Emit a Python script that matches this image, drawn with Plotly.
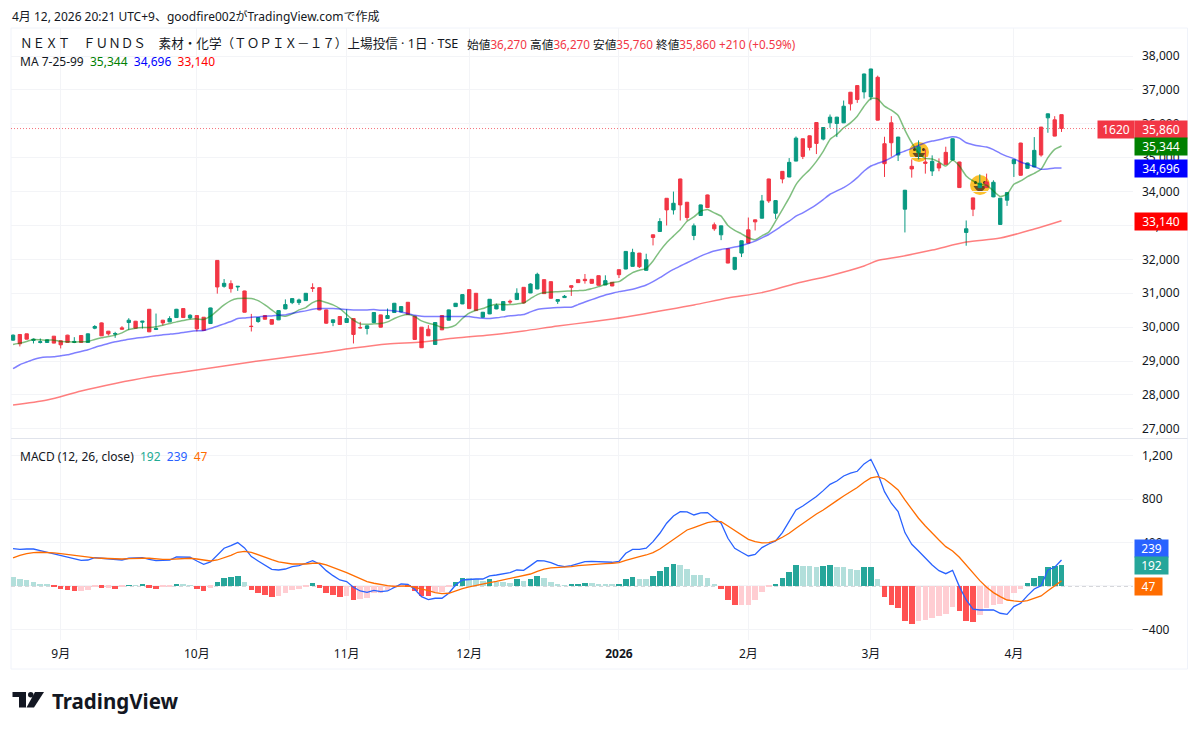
"""NEXT FUNDS TOPIX-17 materials ETF (1620): daily candles with MA and MACD panes."""

import plotly.graph_objects as go
from plotly.subplots import make_subplots

W, H = 1200, 732
FONT = "Noto Sans, Noto Sans CJK JP, sans-serif"
TEXT = "#131722"
GRID = "#F3F4F7"
UP = "#089981"
DOWN = "#F23645"

month_ticks = [7, 27, 49, 67, 89, 108, 126, 147]
month_labels = ["9月", "10月", "11月", "12月", "<b>2026</b>", "2月", "3月", "4月"]
price_ticks = [27000, 28000, 29000, 30000, 31000, 32000, 33000, 34000, 35000, 36000, 37000, 38000]
macd_ticks = [-400, 0, 400, 800, 1200]

opens = [
    29618, 29784, 29804, 29608, 29550, 29549, 29735, 29598, 29765, 29550,
    29755, 29550, 29970, 30127, 29882, 29794, 29980, 30137, 30176, 30147,
    30529, 29931, 30206, 30157, 30284, 30549, 30274, 30343, 30294, 30108,
    31970, 31205, 31284, 31186, 31068, 30029, 30167, 30343, 30225, 30216,
    30539, 30725, 30726, 30784, 31166, 31166, 30510, 30138, 30314, 30138,
    30255, 29990, 29961, 30138, 30363, 30255, 30432, 30451, 30735, 30324,
    30000, 29941, 29491, 30343, 30206, 30608, 30686, 31108, 31000, 30294,
    30392, 30539, 30500, 30765, 30814, 31176, 31010, 31127, 31402, 31343,
    30765, 30873, 31225, 31402, 31412, 31412, 31520, 31245, 31324, 31696,
    31716, 31794, 32186, 31677, 32725, 32823, 33803, 33460, 34372, 33686,
    32706, 33294, 33901, 33020, 32725, 32314, 31706, 32186, 32872, 33166,
    33215, 34372, 33362, 34597, 34430, 34900, 35557, 35646, 36037, 35548,
    36029, 36010, 36029, 36931, 37127, 36941, 36794, 37372, 35412, 36029,
    35079, 33481, 34746, 35147, 34873, 34608, 34824, 35157, 34932, 34873,
    32795, 33814, 34118, 34285, 33844, 33031, 33746, 34824, 35432, 34687,
    34726, 35902, 36176, 36118, 36270,
]
highs = [
    29785, 29800, 29810, 29667, 29667, 29640, 29740, 29610, 29775, 29706,
    29760, 29815, 30060, 30140, 29890, 29863, 30030, 30265, 30185, 30185,
    30535, 30402, 30215, 30323, 30540, 30555, 30382, 30350, 30300, 30575,
    31975, 31420, 31382, 31210, 31075, 30392, 30290, 30350, 30230, 30500,
    30820, 30855, 30843, 31005, 31294, 31170, 30520, 30225, 30320, 30530,
    30260, 30157, 30060, 30440, 30370, 30550, 30715, 30615, 30740, 30330,
    30005, 30060, 30145, 30350, 30520, 30715, 30970, 31115, 31005, 30450,
    30830, 30695, 30765, 30814, 31147, 31180, 31294, 31607, 31410, 31350,
    30820, 30950, 31235, 31410, 31569, 31420, 31525, 31530, 31330, 31700,
    32245, 32314, 32190, 32167, 32735, 33215, 33810, 34000, 34380, 33695,
    33058, 33615, 33910, 33088, 32995, 32320, 32065, 32555, 33235, 33175,
    33901, 34380, 33745, 34605, 34989, 35626, 35565, 35655, 36045, 35900,
    36274, 36205, 36686, 36940, 37135, 37480, 37625, 37421, 35618, 36225,
    35615, 34050, 34951, 35510, 35245, 35069, 34980, 35324, 35568, 34880,
    33148, 33820, 34510, 34530, 34334, 33812, 33980, 34950, 35440, 34852,
    35608, 35910, 36302, 36225, 36270,
]
lows = [
    29600, 29432, 29640, 29520, 29520, 29545, 29525, 29373, 29545, 29530,
    29545, 29545, 29940, 29740, 29755, 29686, 29935, 29920, 29960, 29960,
    29855, 29922, 30050, 30150, 30280, 30280, 30235, 29873, 29895, 30100,
    30990, 31166, 31020, 31070, 30435, 29873, 30130, 30230, 30080, 30210,
    30530, 30680, 30657, 30780, 31040, 30500, 30100, 30030, 30070, 30130,
    29520, 29960, 29785, 30130, 29990, 30250, 30425, 30440, 30365, 29630,
    29385, 29740, 29485, 29915, 30200, 30600, 30680, 30540, 30485, 30285,
    30385, 30530, 30490, 30686, 30810, 30695, 31005, 31120, 30980, 30845,
    30686, 30860, 30922, 31310, 31285, 31285, 31230, 31240, 31210, 31451,
    31710, 31790, 31745, 31670, 32412, 32815, 33000, 33323, 33147, 33147,
    32568, 33285, 33520, 32843, 32568, 31885, 31680, 32068, 32475, 32853,
    33210, 33666, 33196, 34244, 34425, 34895, 34960, 35214, 35107, 35510,
    35882, 35608, 36020, 36392, 36617, 36745, 36696, 36100, 34432, 35030,
    34902, 32795, 34412, 34950, 34530, 34461, 34600, 34795, 34925, 34110,
    32403, 33276, 34110, 34110, 33835, 33024, 33579, 34432, 34470, 34680,
    34720, 35030, 35735, 35630, 35760,
]
closes = [
    29765, 29510, 29647, 29647, 29570, 29628, 29530, 29480, 29550, 29579,
    29550, 29804, 30020, 29745, 29804, 29814, 29941, 30206, 29970, 30176,
    29863, 29961, 30127, 30255, 30529, 30284, 30353, 29951, 29902, 30568,
    31186, 31294, 31137, 31205, 30441, 30020, 30284, 30235, 30088, 30490,
    30666, 30843, 30804, 31000, 31147, 30510, 30118, 30216, 30079, 30255,
    29785, 29981, 30040, 30432, 30000, 30343, 30706, 30608, 30373, 29638,
    29393, 29746, 30138, 29922, 30510, 30706, 30961, 30549, 30490, 30441,
    30824, 30647, 30755, 30745, 31000, 30716, 31274, 31559, 30990, 30853,
    30814, 30912, 31176, 31314, 31373, 31294, 31236, 31373, 31216, 31549,
    32235, 32206, 31784, 31990, 32647, 33117, 33460, 33656, 33607, 33235,
    32990, 33607, 33529, 32902, 32990, 31892, 32059, 32549, 32480, 33107,
    33725, 33725, 33735, 34372, 34862, 35577, 35038, 35303, 35420, 35890,
    36196, 36196, 36519, 36588, 36715, 37470, 37617, 36108, 34824, 35441,
    35608, 34040, 34667, 35324, 34834, 34893, 34696, 34804, 35559, 34118,
    32903, 33481, 34246, 34118, 34275, 33805, 33971, 34942, 34481, 34844,
    35216, 35079, 36294, 35637, 35860,
]
ma7 = [
    29490, 29530, 29579, 29637, 29628, 29618, 29618, 29579, 29569, 29559,
    29569, 29579, 29637, 29686, 29726, 29765, 29833, 29931, 29971, 29990,
    29990, 30010, 30059, 30108, 30157, 30196, 30235, 30245, 30225, 30323,
    30490, 30657, 30784, 30843, 30853, 30843, 30784, 30657, 30510, 30363,
    30323, 30392, 30510, 30579, 30726, 30784, 30726, 30657, 30549, 30373,
    30206, 30098, 30088, 30098, 30108, 30157, 30255, 30334, 30373, 30314,
    30186, 30118, 30069, 29991, 29991, 30059, 30255, 30412, 30500, 30549,
    30628, 30677, 30667, 30667, 30686, 30716, 30843, 30961, 31020, 31039,
    31049, 31059, 31069, 31078, 31088, 31138, 31196, 31265, 31314, 31343,
    31480, 31608, 31677, 31735, 31951, 32245, 32490, 32686, 32882, 33127,
    33254, 33421, 33470, 33372, 33274, 33000, 32853, 32755, 32637, 32578,
    32696, 32804, 33127, 33470, 33813, 34205, 34450, 34646, 34891, 35185,
    35539, 35686, 35882, 36029, 36225, 36519, 36745, 36735, 36519, 36402,
    36245, 35814, 35441, 35147, 34981, 34961, 34873, 34755, 34922, 34755,
    34461, 34314, 34216, 34187, 34020, 33854, 33922, 34216, 34314, 34442,
    34540, 34657, 35000, 35245, 35344,
]
ma25 = [
    28775, 28893, 28971, 29049, 29098, 29118, 29128, 29157, 29187, 29236,
    29285, 29334, 29402, 29461, 29520, 29569, 29608, 29647, 29677, 29696,
    29726, 29755, 29775, 29794, 29814, 29843, 29873, 29892, 29902, 29961,
    30029, 30098, 30167, 30255, 30274, 30294, 30304, 30323, 30333, 30353,
    30363, 30412, 30451, 30481, 30530, 30549, 30549, 30549, 30539, 30520,
    30510, 30510, 30510, 30520, 30500, 30500, 30481, 30451, 30402, 30353,
    30324, 30314, 30314, 30314, 30314, 30314, 30314, 30314, 30285, 30265,
    30255, 30275, 30304, 30334, 30353, 30373, 30451, 30520, 30549, 30569,
    30579, 30588, 30588, 30667, 30745, 30814, 30883, 30951, 31000, 31049,
    31079, 31118, 31177, 31245, 31343, 31461, 31588, 31706, 31804, 31902,
    32000, 32098, 32176, 32245, 32294, 32323, 32363, 32412, 32470, 32539,
    32637, 32735, 32862, 33000, 33127, 33274, 33372, 33490, 33617, 33764,
    33922, 34020, 34118, 34246, 34412, 34608, 34755, 34834, 34902, 35000,
    35118, 35196, 35275, 35363, 35441, 35490, 35530, 35579, 35618, 35579,
    35441, 35383, 35343, 35314, 35236, 35128, 35040, 34971, 34873, 34804,
    34736, 34657, 34667, 34696, 34696,
]
# read every fifth session, the line is smooth enough for that
ma99_idx = [0, 5, 10, 15, 20, 25, 30, 35, 40, 45, 50, 55, 60, 65, 70, 75, 80, 85, 90, 95,
            100, 105, 110, 115, 120, 125, 127, 130, 135, 140, 145, 150, 154]
ma99 = [27705, 27850, 28118, 28340, 28530, 28680, 28825, 28975, 29105, 29240, 29385,
        29505, 29565, 29680, 29770, 29890, 30035, 30160, 30300, 30475, 30655, 30860,
        31020, 31290, 31520, 31805, 31965, 32070, 32275, 32510, 32630, 32895, 33140]

macd = [
    344, 337, 340, 340, 325, 310, 294, 276, 264, 248,
    236, 239, 261, 255, 248, 242, 239, 255, 255, 261,
    245, 233, 236, 239, 267, 264, 264, 230, 199, 221,
    288, 347, 371, 399, 350, 270, 230, 193, 153, 147,
    156, 178, 187, 209, 233, 202, 141, 95, 55, 40,
    -12, -46, -58, -40, -52, -46, -12,
    18, 15, -31, -98, -126, -113, -113, -67, 9, 55,
    61, 64, 64, 92, 101, 113, 123, 147, 144, 187,
    233, 230, 215, 190, 178, 187, 209, 224, 227, 224,
    224, 218, 227, 301, 337, 337, 347, 408, 485, 577,
    644, 684, 681, 653, 672, 675, 623, 577, 439, 347,
    310, 276, 291, 353, 386, 414, 491, 598, 699,
    736, 776, 822, 877, 935, 966, 1012, 1037, 1055, 1123,
    1165, 1037, 868, 761, 684, 491, 383, 322, 255, 193,
    141, 113, 144, -6, -129, -212, -221, -224, -221, -251,
    -261, -190, -159, -89, -28, 3, 147, 172, 239,
]
signal = [
    258, 282, 297, 307, 310, 310, 304, 297, 288, 279,
    270, 264, 258, 255, 251, 248, 248, 251, 255, 255,
    255, 248, 245, 245, 248, 251, 255, 248, 236, 230,
    239, 258, 282, 310, 319, 310, 285, 264, 242, 221,
    209, 202, 202, 202, 209, 209, 193, 172, 144, 123,
    95, 67, 40, 25, 12, 3, -3,
    0, 0, -12, -31, -43, -61, -71, -67, -43, -25,
    -9, 6, 18, 31, 43, 55, 67, 80, 92, 110,
    135, 156, 166, 169, 172, 178, 187, 193, 196, 199,
    205, 209, 215, 236, 255, 270, 285, 307, 340, 383,
    432, 472, 515, 537, 561, 583, 595, 592, 552, 509,
    469, 429, 408, 396, 399, 417, 448, 485, 531,
    577, 623, 662, 699, 745, 785, 828, 868, 905, 954,
    994, 1006, 984, 935, 883, 791, 705, 623, 552, 485,
    423, 362, 322, 264, 193, 117, 49, -12, -61, -98,
    -129, -138, -144, -135, -117, -92, -43, 0, 47,
]
hist = [
    80, 64, 52, 40, 18, 9, -9, -31, -37, -46,
    -43, -34, -6, -15, -15, -28, -9, 6, 3, 12,
    -15, -28, -12, -6, 18, 9, 6, -28, -43, -15,
    40, 77, 86, 89, 34, -40, -64, -83, -104, -89,
    -67, -34, -25, -9, 25, -15, -61, -83, -104, -92,
    -126, -123, -113, -67, -61, -40, -15,
    -6, -12, -46, -92, -95, -55, -52, -6, 40, 77,
    74, 61, 49, 61, 40, 34, 31, 61, 46, 67,
    89, 71, 37, 18, 3, 9, 21, 31, 28, 15,
    14, 9, 15, 61, 83, 67, 61, 92, 138, 175,
    202, 193, 153, 101, 98, 77, 18, -28, -129, -175,
    -173, -172, -129, -58, -12, 18, 71, 126, 193,
    184, 183, 178, 184, 193, 175, 172, 159, 147, 172,
    173, 61, -104, -175, -206, -322, -350, -322, -313, -297,
    -276, -258, -190, -227, -319, -328, -267, -199, -175, -166,
    -129, -61, -28, 25, 74, 92, 178, 187, 192,
]

idx = list(range(len(closes)))


def hist_colors(values):
    out = []
    prev = values[0] + 1
    for v in values:
        if v >= 0:
            out.append("#26A69A" if v > prev else "#B2DFDB")
        else:
            out.append("#FF5252" if v < prev else "#FFCDD2")
        prev = v
    return out


def px(x):
    return x / W


def py(y):
    return 1 - y / H


def label(x, y, text, size=12, color=TEXT, **kw):
    fig.add_annotation(
        xref="paper", yref="paper", x=px(x), y=py(y), text=text, showarrow=False,
        xanchor="left", yanchor="middle", align="left", borderpad=0,
        font=dict(family=FONT, size=size, color=color), **kw,
    )


def tag(x, y, text, bg, w=50):
    fig.add_annotation(
        xref="paper", yref="paper", x=px(x), y=py(y), text=text, showarrow=False,
        xanchor="left", yanchor="middle", align="center", valign="middle",
        width=w, height=17, borderpad=0, bgcolor=bg,
        font=dict(family=FONT, size=12, color="white"),
    )


def emoji(cx, cy, r=10):
    # face sits under the candles, as on the reference
    def box(x0, y0, x1, y1, color):
        fig.add_shape(type="circle", xref="paper", yref="paper", layer="below",
                      x0=px(x0), x1=px(x1), y0=py(y0), y1=py(y1),
                      fillcolor=color, line_width=0)
    box(cx - r, cy - r, cx + r, cy + r, "#FBC02D")
    box(cx - 6, cy - 4, cx - 3, cy - 1, "#4A3418")
    box(cx + 3, cy - 4, cx + 6, cy - 1, "#4A3418")
    mouth = (f"M {px(cx - 6.5)} {py(cy + 1)} L {px(cx + 6.5)} {py(cy + 1)} "
             f"Q {px(cx)} {py(cy + 12)} {px(cx - 6.5)} {py(cy + 1)} Z")
    fig.add_shape(type="path", path=mouth, xref="paper", yref="paper", layer="below",
                  fillcolor="#6B4A22", line_width=0)


fig = make_subplots(rows=2, cols=1, shared_xaxes=True, vertical_spacing=0)

fig.add_trace(go.Candlestick(
    x=idx, open=opens, high=highs, low=lows, close=closes, whiskerwidth=0,
    increasing=dict(line=dict(color=UP, width=1), fillcolor=UP),
    decreasing=dict(line=dict(color=DOWN, width=1), fillcolor=DOWN),
    showlegend=False,
), row=1, col=1)
fig.add_trace(go.Scatter(x=idx, y=ma7, mode="lines", showlegend=False,
                         line=dict(color="rgba(0,128,0,0.5)", width=1.5, shape="spline", smoothing=0.5)),
              row=1, col=1)
fig.add_trace(go.Scatter(x=idx, y=ma25, mode="lines", showlegend=False,
                         line=dict(color="rgba(0,0,255,0.5)", width=1.5, shape="spline", smoothing=0.5)),
              row=1, col=1)
fig.add_trace(go.Scatter(x=ma99_idx, y=ma99, mode="lines", showlegend=False,
                         line=dict(color="rgba(255,0,0,0.5)", width=1.5, shape="spline", smoothing=0.8)),
              row=1, col=1)

fig.add_trace(go.Bar(x=idx, y=hist, marker=dict(color=hist_colors(hist), line_width=0),
                     width=0.82, showlegend=False), row=2, col=1)
fig.add_trace(go.Scatter(x=idx, y=macd, mode="lines", showlegend=False,
                         line=dict(color="#2962FF", width=1.3)), row=2, col=1)
fig.add_trace(go.Scatter(x=idx, y=signal, mode="lines", showlegend=False,
                         line=dict(color="#FF6D00", width=1.3)), row=2, col=1)

x_axis = dict(
    domain=[px(11), px(1133)], range=[-0.3, 164.5], tickmode="array",
    tickvals=month_ticks, ticktext=month_labels, showgrid=True, gridcolor=GRID, gridwidth=1,
    zeroline=False, showline=False, ticks="", rangeslider_visible=False,
    tickfont=dict(family=FONT, size=12, color=TEXT),
)
y_axis = dict(
    side="right", showgrid=True, gridcolor=GRID, gridwidth=1, zeroline=False, showline=False,
    ticks="", tickformat=",", tickmode="array", ticklabelstandoff=8,
    tickfont=dict(family=FONT, size=12, color=TEXT),
)
fig.update_layout(
    width=W, height=H, margin=dict(l=0, r=0, t=0, b=0),
    paper_bgcolor="white", plot_bgcolor="white", bargap=0, hovermode=False,
    xaxis={**x_axis, "showticklabels": False},
    xaxis2={**x_axis, "ticklabelstandoff": 5},
    yaxis={**y_axis, "domain": [py(438), py(28)], "range": [26731, 38826], "tickvals": price_ticks},
    yaxis2={**y_axis, "domain": [py(640), py(439)], "range": [-497, 1352], "tickvals": macd_ticks},
)

# frame and pane separator
fig.add_shape(type="rect", xref="paper", yref="paper", layer="below",
              x0=px(11), x1=px(1187.5), y0=py(669), y1=py(28),
              line=dict(color="#F0F3FA", width=1))
fig.add_shape(type="line", xref="paper", yref="paper", layer="below",
              x0=px(11), x1=px(1187.5), y0=py(438.5), y1=py(438.5),
              line=dict(color="#E0E3EB", width=1))

# last price and zero level
fig.add_shape(type="line", xref="paper", yref="y", x0=px(11), x1=px(1097),
              y0=closes[-1], y1=closes[-1],
              line=dict(color="rgba(242,54,69,0.7)", width=1, dash="1px,2px"))
fig.add_shape(type="line", xref="paper", yref="y2", x0=px(11), x1=px(1133), layer="below",
              y0=0, y1=0, line=dict(color="#A8ABB3", width=1, dash="4px,3px"))

emoji(919, 152)
emoji(980, 185)

# logo
logo_t = (f"M {px(12.5)} {py(692)} L {px(26)} {py(692)} L {px(26)} {py(707.5)} L {px(19)} {py(707.5)} "
          f"L {px(19)} {py(697)} L {px(12.5)} {py(697)} Z")
logo_slash = (f"M {px(35)} {py(692)} L {px(44)} {py(692)} L {px(34)} {py(707.5)} L {px(26.5)} {py(707.5)} Z")
for path in (logo_t, logo_slash):
    fig.add_shape(type="path", path=path, xref="paper", yref="paper", fillcolor="#131722", line_width=0)
fig.add_shape(type="circle", xref="paper", yref="paper", fillcolor="#131722", line_width=0,
              x0=px(28), x1=px(33.5), y0=py(697.5), y1=py(692))

R = f'<span style="color:{DOWN}">'
label(11, 16, "4月 12, 2026 20:21 UTC+9、goodfire002がTradingView.comで作成", size=12)
label(18.5, 44, "ＮＥＸＴ　ＦＵＮＤＳ　素材・化学（ＴＯＰＩＸ－１７）上場投信 · 1日 · TSE", size=12.6)
label(466, 44, f"始値{R}36,270</span> 高値{R}36,270</span> 安値{R}35,760</span> "
      f"終値{R}35,860</span> {R}+210 (+0.59%)</span>", size=11.7)
label(18.5, 62, f'MA 7-25-99  <span style="color:#008000">{ma7[-1]:,}</span>  '
      f'<span style="color:#0000FF">{ma25[-1]:,}</span>  '
      f'<span style="color:#FF0000">{ma99[-1]:,}</span>', size=12)
label(18.5, 456, f'MACD (12, 26, close)  <span style="color:#22AB94">{hist[-1]}</span>  '
      f'<span style="color:#2962FF">{macd[-1]}</span>  '
      f'<span style="color:#FF6D00">{signal[-1]}</span>', size=12)
label(50.5, 701, "<b>TradingView</b>", size=20.5, color="#131722")

tag(1097, 129, "1620", DOWN, w=36)
tag(1134, 129, f"{closes[-1]:,}", DOWN, w=52)
tag(1134, 146.5, f"{ma7[-1]:,}", "#008000", w=52)
tag(1134, 168.5, f"{ma25[-1]:,}", "#0000FF", w=52)
tag(1134, 221.5, f"{ma99[-1]:,}", "#FF0000", w=52)
tag(1134, 548, f"{macd[-1]}", "#2962FF", w=33)
tag(1134, 565, f"{hist[-1]}", "#26A69A", w=33)
tag(1134, 586, f"{signal[-1]}", "#FF6D00", w=27)

fig.write_html("out.html", config={"displayModeBar": False},
               post_script="document.body.style.margin='0';")
